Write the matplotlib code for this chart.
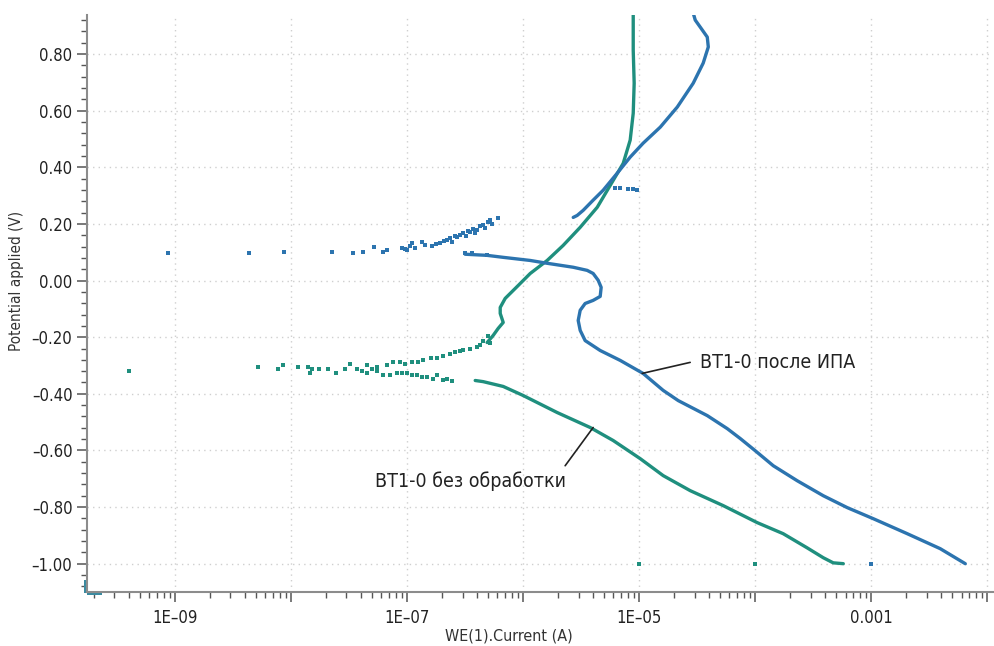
import matplotlib
matplotlib.use("Agg")
import matplotlib.pyplot as plt
from matplotlib.ticker import FixedLocator, FuncFormatter, MultipleLocator, NullFormatter

plt.rcParams['font.family'] = ['DejaVu Sans']
plt.rcParams['font.stretch'] = 'condensed'

# ---------------- ВТ1-0 после ИПА (blue) ----------------
# cathodic branch, from -1.0 V up to the corrosion potential
ipa_cath_i = [6.46e-3, 3.93e-3, 2.04e-3, 1.04e-3, 6.21e-4, 3.86e-4, 2.30e-4, 1.43e-4,
              1.0e-4, 7.43e-5, 5.74e-5, 3.86e-5, 2.17e-5, 1.61e-5, 1.08e-5, 6.86e-6,
              4.61e-6, 3.42e-6, 3.10e-6, 2.98e-6, 3.10e-6, 3.42e-6, 4.01e-6, 4.61e-6,
              4.70e-6, 4.43e-6, 4.01e-6, 3.56e-6, 2.70e-6, 1.61e-6, 1.15e-6, 6.73e-7,
              4.89e-7, 3.16e-7]
ipa_cath_e = [-1.00, -0.947, -0.894, -0.841, -0.802, -0.760, -0.707, -0.654,
              -0.601, -0.558, -0.523, -0.477, -0.424, -0.388, -0.328, -0.282,
              -0.247, -0.212, -0.176, -0.141, -0.105, -0.081, -0.070, -0.056,
              -0.024, 0.001, 0.025, 0.036, 0.047, 0.061, 0.071, 0.082,
              0.089, 0.093]
# scattered low-current readings around the corrosion potential
ipa_near_i = [8.7e-10, 4.35e-9, 8.7e-9, 2.26e-8, 3.42e-8, 4.18e-8, 5.2e-8, 6.21e-8,
              6.73e-8, 9.06e-8, 9.6e-8, 1.0e-7, 1.05e-7, 1.10e-7, 1.17e-7, 1.35e-7,
              1.42e-7, 1.64e-7, 1.78e-7, 1.92e-7, 2.08e-7, 2.21e-7, 2.35e-7, 2.44e-7,
              2.6e-7, 2.70e-7, 2.86e-7, 3.04e-7, 3.2e-7, 3.35e-7, 3.49e-7, 3.7e-7,
              3.86e-7, 4.01e-7, 4.25e-7, 4.52e-7, 4.7e-7, 5.0e-7, 5.2e-7, 5.4e-7,
              6.09e-7, 3.16e-7, 3.6e-7, 4.89e-7]
ipa_near_e = [0.096, 0.096, 0.100, 0.100, 0.096, 0.100, 0.117, 0.100,
              0.107, 0.114, 0.110, 0.107, 0.121, 0.131, 0.114, 0.135,
              0.125, 0.121, 0.128, 0.131, 0.138, 0.142, 0.149, 0.135,
              0.156, 0.153, 0.160, 0.167, 0.156, 0.174, 0.170, 0.181,
              0.167, 0.177, 0.192, 0.195, 0.184, 0.206, 0.213, 0.199,
              0.220, 0.096, 0.096, 0.089]
# anodic branch
ipa_anod_i = [2.70e-6, 2.92e-6, 3.29e-6, 4.01e-6, 4.89e-6, 6.46e-6, 8.36e-6, 1.08e-5,
              1.52e-5, 2.13e-5, 2.92e-5, 3.56e-5, 3.94e-5, 3.86e-5, 3.36e-5, 3.04e-5, 2.92e-5]
ipa_anod_e = [0.223, 0.230, 0.248, 0.284, 0.319, 0.379, 0.436, 0.485,
              0.542, 0.613, 0.697, 0.768, 0.825, 0.860, 0.895, 0.920, 0.945]
# isolated readings
ipa_pts_i = [6.21e-6, 6.86e-6, 8.04e-6, 8.88e-6, 9.6e-6, 1.0e-3]
ipa_pts_e = [0.326, 0.326, 0.322, 0.322, 0.319, -1.00]

# ---------------- ВТ1-0 без обработки (green) ----------------
raw_cath_i = [5.74e-4, 4.70e-4, 3.86e-4, 2.80e-4, 1.74e-4, 1.04e-4, 5.3e-5, 2.75e-5,
              1.61e-5, 1.02e-5, 5.97e-6, 3.78e-6, 1.96e-6, 1.0e-6, 6.73e-7, 4.52e-7, 3.86e-7]
raw_cath_e = [-1.00, -0.997, -0.979, -0.944, -0.894, -0.855, -0.795, -0.742,
              -0.689, -0.629, -0.565, -0.519, -0.466, -0.406, -0.374, -0.357, -0.353]
raw_cath_near_i = [4.52e-8, 5.51e-8, 6.21e-8, 7.13e-8, 8.2e-8, 9.06e-8, 1.0e-7, 1.10e-7,
                   1.22e-7, 1.35e-7, 1.49e-7, 1.67e-7, 1.81e-7, 2.04e-7, 2.21e-7, 2.44e-7]
raw_cath_near_e = [-0.325, -0.318, -0.335, -0.335, -0.328, -0.325, -0.328, -0.335,
                   -0.335, -0.339, -0.342, -0.346, -0.335, -0.350, -0.346, -0.353]
raw_anod_near_i = [4.0e-10, 5.2e-9, 7.7e-9, 8.5e-9, 1.15e-8, 1.40e-8, 1.46e-8, 1.52e-8,
                   1.74e-8, 2.09e-8, 2.44e-8, 2.9e-8, 3.23e-8, 3.71e-8, 4.1e-8, 4.52e-8,
                   5.0e-8, 5.51e-8, 6.73e-8, 7.6e-8, 8.7e-8, 9.6e-8, 1.10e-7, 1.24e-7,
                   1.37e-7, 1.59e-7, 1.81e-7, 2.04e-7, 2.35e-7, 2.6e-7, 2.86e-7, 3.04e-7,
                   3.49e-7, 4.01e-7, 4.25e-7, 4.52e-7, 5.0e-7, 5.2e-7]
raw_anod_near_e = [-0.321, -0.307, -0.314, -0.300, -0.307, -0.307, -0.328, -0.314,
                   -0.311, -0.311, -0.325, -0.314, -0.293, -0.311, -0.318, -0.300,
                   -0.311, -0.307, -0.300, -0.289, -0.289, -0.296, -0.289, -0.286,
                   -0.282, -0.275, -0.272, -0.268, -0.261, -0.254, -0.250, -0.247,
                   -0.240, -0.236, -0.226, -0.212, -0.197, -0.222]
raw_anod_i = [4.89e-7, 5.51e-7, 6.09e-7, 6.73e-7, 6.34e-7, 6.34e-7, 7.0e-7, 8.88e-7,
              1.15e-6, 1.61e-6, 2.21e-6, 3.10e-6, 4.35e-6, 5.97e-6, 7.28e-6, 8.36e-6,
              8.88e-6, 9.05e-6, 8.88e-6, 8.88e-6]
raw_anod_e = [-0.219, -0.194, -0.169, -0.148, -0.116, -0.095, -0.063, -0.021,
              0.025, 0.071, 0.124, 0.188, 0.259, 0.354, 0.414, 0.496,
              0.591, 0.697, 0.814, 0.945]
raw_pts_i = [1.0e-5, 1.0e-4]
raw_pts_e = [-1.00, -1.00]

# off-scale readings piled at the lower-left corner
edge_i = [1.70e-10, 1.70e-10, 1.70e-10, 1.70e-10, 1.80e-10, 1.95e-10, 2.1e-10, 2.25e-10]
edge_e = [-1.065, -1.075, -1.085, -1.095, -1.102, -1.102, -1.102, -1.102]

x_tick_vals = [1e-9, 1e-8, 1e-7, 1e-6, 1e-5, 1e-4, 1e-3, 1e-2]
x_tick_text = ["1E\u201309", "", "1E\u201307", "", "1E\u201305", "", "0.001", ""]

BLUE = "#2c74af"
GREEN = "#1f8f7e"

fig = plt.figure(figsize=(9.95, 6.46), dpi=100)
ax = fig.add_axes([0.0874, 0.0836, 0.9106, 0.8932])
ax.set_xscale("log")
ax.set_xlim(1.74e-10, 1.12e-2)
ax.set_ylim(-1.10, 0.938)

ax.grid(True, which="major", linestyle=(0, (1, 3)), color="#cfcfcf", linewidth=1)
ax.set_axisbelow(True)

pt = dict(marker="s", linestyle="none", markersize=2.3, markeredgewidth=0)
ln = dict(lw=2.4, solid_capstyle="round", solid_joinstyle="round")

ax.plot(raw_cath_i, raw_cath_e, color=GREEN, **ln)
ax.plot(raw_anod_i, raw_anod_e, color=GREEN, **ln)
ax.plot(raw_cath_near_i, raw_cath_near_e, color=GREEN, **pt)
ax.plot(raw_anod_near_i, raw_anod_near_e, color=GREEN, **pt)
ax.plot(raw_pts_i, raw_pts_e, color=GREEN, **pt)

ax.plot(ipa_cath_i, ipa_cath_e, color=BLUE, **ln)
ax.plot(ipa_anod_i, ipa_anod_e, color=BLUE, **ln)
ax.plot(ipa_near_i, ipa_near_e, color=BLUE, **pt)
ax.plot(ipa_pts_i, ipa_pts_e, color=BLUE, **pt)

ax.plot(edge_i, edge_e, color="#3a8aa0", marker="s", linestyle="none",
        markersize=3, markeredgewidth=0, clip_on=False)

# axes styling
for side in ("top", "right"):
    ax.spines[side].set_visible(False)
for side in ("left", "bottom"):
    ax.spines[side].set_color("#8c8c8c")
    ax.spines[side].set_linewidth(1.5)

ax.xaxis.set_major_locator(FixedLocator(x_tick_vals))
ax.set_xticklabels(x_tick_text)
minor_x = [m * d for d in [1e-10, 1e-9, 1e-8, 1e-7, 1e-6, 1e-5, 1e-4, 1e-3]
           for m in range(2, 10)]
ax.xaxis.set_minor_locator(FixedLocator(minor_x))
ax.xaxis.set_minor_formatter(NullFormatter())

ax.yaxis.set_major_locator(MultipleLocator(0.2))
ax.yaxis.set_minor_locator(MultipleLocator(0.04))


def ylab(v, _):
    v = round(v, 2)
    if abs(v) < 1e-9:
        return "0.00"
    s = f"{abs(v):.2f}"
    return ("\u2013" + s) if v < 0 else s


ax.yaxis.set_major_formatter(FuncFormatter(ylab))

ax.tick_params(which="major", direction="out", length=7, width=1.1, color="#555555",
               labelsize=12, labelcolor="#222222")
ax.tick_params(which="minor", direction="out", length=4, width=1.0, color="#555555")
ax.tick_params(axis="x", which="major", pad=5)

ax.set_xlabel("WE(1).Current (A)", fontsize=11.5, color="#333333")
ax.set_ylabel("Potential applied (V)", fontsize=11, color="#333333")
ax.xaxis.set_label_coords(0.466, -0.063)
ax.yaxis.set_label_coords(-0.07, 0.539)

# curve labels with leader lines
line_kw = dict(arrowprops=dict(arrowstyle="-", color="#222222", lw=1.2, shrinkA=0, shrinkB=0))
ax.annotate("", xy=(1.06e-5, -0.328), xytext=(2.75e-5, -0.289), **line_kw)
ax.text(3.36e-5, -0.289, "ВТ1-0 после ИПА", fontsize=14, color="#222222",
        ha="left", va="center")
ax.annotate("", xy=(4.01e-6, -0.519), xytext=(2.30e-6, -0.654), **line_kw)
ax.text(5.3e-8, -0.707, "ВТ1-0 без обработки", fontsize=14, color="#222222",
        ha="left", va="center")

fig.savefig("out.png", dpi=100)
